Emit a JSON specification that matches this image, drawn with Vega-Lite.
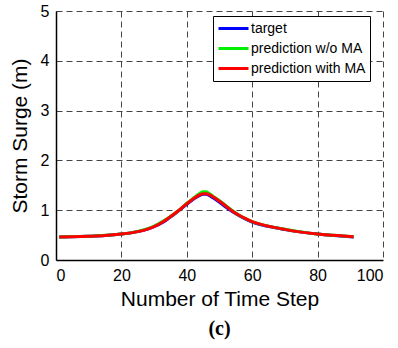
{
  "$schema": "https://vega.github.io/schema/vega-lite/v6.json",
  "width": 327,
  "height": 249,
  "autosize": {"type": "none"},
  "padding": {"left": 56, "top": 11, "right": 15, "bottom": 88},
  "background": "white",
  "config": {
    "view": {"stroke": null},
    "font": "Liberation Sans"
  },
  "title": {
    "text": "(c)",
    "orient": "bottom",
    "font": "Liberation Serif",
    "fontWeight": "bold",
    "fontSize": 20,
    "color": "black",
    "offset": 10
  },
  "data": {
    "values": [
      {"step": 1, "value": 0.46, "series": "target"},
      {"step": 5, "value": 0.465, "series": "target"},
      {"step": 10, "value": 0.475, "series": "target"},
      {"step": 15, "value": 0.49, "series": "target"},
      {"step": 20, "value": 0.52, "series": "target"},
      {"step": 25, "value": 0.57, "series": "target"},
      {"step": 28, "value": 0.62, "series": "target"},
      {"step": 30, "value": 0.67, "series": "target"},
      {"step": 33, "value": 0.77, "series": "target"},
      {"step": 36, "value": 0.91, "series": "target"},
      {"step": 38, "value": 1.01, "series": "target"},
      {"step": 40, "value": 1.12, "series": "target"},
      {"step": 42, "value": 1.22, "series": "target"},
      {"step": 44, "value": 1.30, "series": "target"},
      {"step": 45, "value": 1.32, "series": "target"},
      {"step": 46, "value": 1.32, "series": "target"},
      {"step": 47, "value": 1.29, "series": "target"},
      {"step": 48, "value": 1.25, "series": "target"},
      {"step": 50, "value": 1.16, "series": "target"},
      {"step": 52, "value": 1.06, "series": "target"},
      {"step": 54, "value": 0.97, "series": "target"},
      {"step": 56, "value": 0.89, "series": "target"},
      {"step": 58, "value": 0.82, "series": "target"},
      {"step": 60, "value": 0.76, "series": "target"},
      {"step": 63, "value": 0.70, "series": "target"},
      {"step": 66, "value": 0.66, "series": "target"},
      {"step": 70, "value": 0.61, "series": "target"},
      {"step": 75, "value": 0.56, "series": "target"},
      {"step": 80, "value": 0.52, "series": "target"},
      {"step": 85, "value": 0.49, "series": "target"},
      {"step": 91, "value": 0.46, "series": "target"},

      {"step": 1, "value": 0.46, "series": "prediction w/o MA"},
      {"step": 5, "value": 0.47, "series": "prediction w/o MA"},
      {"step": 10, "value": 0.475, "series": "prediction w/o MA"},
      {"step": 15, "value": 0.495, "series": "prediction w/o MA"},
      {"step": 20, "value": 0.52, "series": "prediction w/o MA"},
      {"step": 25, "value": 0.575, "series": "prediction w/o MA"},
      {"step": 28, "value": 0.63, "series": "prediction w/o MA"},
      {"step": 30, "value": 0.68, "series": "prediction w/o MA"},
      {"step": 33, "value": 0.79, "series": "prediction w/o MA"},
      {"step": 36, "value": 0.92, "series": "prediction w/o MA"},
      {"step": 38, "value": 1.02, "series": "prediction w/o MA"},
      {"step": 40, "value": 1.14, "series": "prediction w/o MA"},
      {"step": 42, "value": 1.24, "series": "prediction w/o MA"},
      {"step": 44, "value": 1.34, "series": "prediction w/o MA"},
      {"step": 45, "value": 1.37, "series": "prediction w/o MA"},
      {"step": 46, "value": 1.37, "series": "prediction w/o MA"},
      {"step": 47, "value": 1.33, "series": "prediction w/o MA"},
      {"step": 48, "value": 1.28, "series": "prediction w/o MA"},
      {"step": 50, "value": 1.19, "series": "prediction w/o MA"},
      {"step": 52, "value": 1.09, "series": "prediction w/o MA"},
      {"step": 54, "value": 0.99, "series": "prediction w/o MA"},
      {"step": 56, "value": 0.90, "series": "prediction w/o MA"},
      {"step": 58, "value": 0.83, "series": "prediction w/o MA"},
      {"step": 60, "value": 0.77, "series": "prediction w/o MA"},
      {"step": 63, "value": 0.71, "series": "prediction w/o MA"},
      {"step": 66, "value": 0.665, "series": "prediction w/o MA"},
      {"step": 70, "value": 0.62, "series": "prediction w/o MA"},
      {"step": 75, "value": 0.565, "series": "prediction w/o MA"},
      {"step": 80, "value": 0.52, "series": "prediction w/o MA"},
      {"step": 85, "value": 0.495, "series": "prediction w/o MA"},
      {"step": 91, "value": 0.465, "series": "prediction w/o MA"},

      {"step": 1, "value": 0.46, "series": "prediction with MA"},
      {"step": 5, "value": 0.465, "series": "prediction with MA"},
      {"step": 10, "value": 0.475, "series": "prediction with MA"},
      {"step": 15, "value": 0.49, "series": "prediction with MA"},
      {"step": 20, "value": 0.52, "series": "prediction with MA"},
      {"step": 25, "value": 0.57, "series": "prediction with MA"},
      {"step": 28, "value": 0.62, "series": "prediction with MA"},
      {"step": 30, "value": 0.67, "series": "prediction with MA"},
      {"step": 33, "value": 0.78, "series": "prediction with MA"},
      {"step": 36, "value": 0.92, "series": "prediction with MA"},
      {"step": 38, "value": 1.02, "series": "prediction with MA"},
      {"step": 40, "value": 1.13, "series": "prediction with MA"},
      {"step": 42, "value": 1.23, "series": "prediction with MA"},
      {"step": 44, "value": 1.31, "series": "prediction with MA"},
      {"step": 45, "value": 1.33, "series": "prediction with MA"},
      {"step": 46, "value": 1.33, "series": "prediction with MA"},
      {"step": 47, "value": 1.31, "series": "prediction with MA"},
      {"step": 48, "value": 1.27, "series": "prediction with MA"},
      {"step": 50, "value": 1.18, "series": "prediction with MA"},
      {"step": 52, "value": 1.08, "series": "prediction with MA"},
      {"step": 54, "value": 0.98, "series": "prediction with MA"},
      {"step": 56, "value": 0.90, "series": "prediction with MA"},
      {"step": 58, "value": 0.83, "series": "prediction with MA"},
      {"step": 60, "value": 0.77, "series": "prediction with MA"},
      {"step": 63, "value": 0.71, "series": "prediction with MA"},
      {"step": 66, "value": 0.665, "series": "prediction with MA"},
      {"step": 70, "value": 0.615, "series": "prediction with MA"},
      {"step": 75, "value": 0.56, "series": "prediction with MA"},
      {"step": 80, "value": 0.52, "series": "prediction with MA"},
      {"step": 85, "value": 0.495, "series": "prediction with MA"},
      {"step": 91, "value": 0.465, "series": "prediction with MA"}
    ]
  },
  "mark": {"type": "line", "strokeWidth": 3, "interpolate": "monotone"},
  "encoding": {
    "x": {
      "field": "step",
      "type": "quantitative",
      "scale": {"domain": [0, 100], "nice": false},
      "axis": {
        "title": "Number of Time Step",
        "values": [0, 20, 40, 60, 80, 100],
        "titleFontSize": 21,
        "titleFontWeight": "normal",
        "titleColor": "black",
        "titlePadding": 5,
        "labelFontSize": 16,
        "labelColor": "black",
        "labelPadding": 7,
        "tickSize": 0,
        "domainColor": "black",
        "domainWidth": 1.5,
        "grid": true,
        "gridColor": "#444",
        "gridDash": [6, 4],
        "gridOpacity": 1,
        "gridWidth": 1
      }
    },
    "y": {
      "field": "value",
      "type": "quantitative",
      "scale": {"domain": [0, 5], "nice": false},
      "axis": {
        "title": "Storm Surge (m)",
        "values": [0, 1, 2, 3, 4, 5],
        "titleFontSize": 21,
        "titleFontWeight": "normal",
        "titleColor": "black",
        "titlePadding": 10,
        "labelFontSize": 16,
        "labelColor": "black",
        "labelPadding": 7,
        "tickSize": 0,
        "domainColor": "black",
        "domainWidth": 1.5,
        "grid": true,
        "gridColor": "#444",
        "gridDash": [6, 4],
        "gridOpacity": 1,
        "gridWidth": 1
      }
    },
    "color": {
      "field": "series",
      "type": "nominal",
      "sort": ["target", "prediction w/o MA", "prediction with MA"],
      "scale": {
        "domain": ["target", "prediction w/o MA", "prediction with MA"],
        "range": ["#0000ff", "#00ee00", "#ff0000"]
      },
      "legend": {
        "title": null,
        "orient": "none",
        "legendX": 157,
        "legendY": 5,
        "fillColor": "white",
        "strokeColor": "black",
        "padding": 4,
        "symbolType": "stroke",
        "symbolSize": 900,
        "symbolStrokeWidth": 3,
        "clipHeight": 17,
        "labelFontSize": 14,
        "labelColor": "black",
        "labelOffset": 1,
        "rowPadding": 3
      }
    },
    "order": {"field": "series", "sort": "descending"}
  }
}
